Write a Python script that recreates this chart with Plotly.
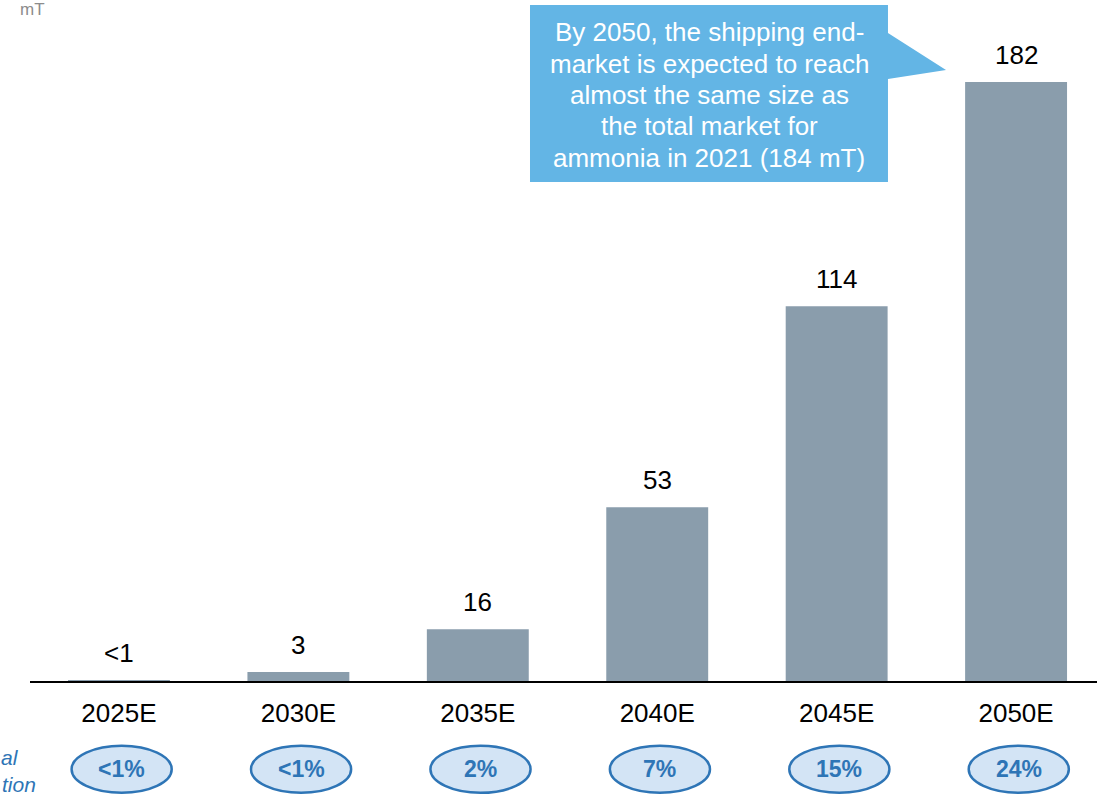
import plotly.graph_objects as go

categories = ["2025E", "2030E", "2035E", "2040E", "2045E", "2050E"]
values = [0.6, 3, 16, 53, 114, 182]
value_labels = ["<1", "3", "16", "53", "114", "182"]
shares = ["<1%", "<1%", "2%", "7%", "15%", "24%"]
callout_lines = [
    "By 2050, the shipping end-",
    "market is expected to reach",
    "almost the same size as",
    "the total market for",
    "ammonia in 2021 (184 mT)",
]
row_label_fragments = ["al", "tion"]

FONT = "Liberation Sans, Arial, sans-serif"
BAR = "#8a9dac"
BLUE = "#2e75b6"

xs = list(range(len(categories)))

fig = go.Figure()
fig.add_trace(go.Bar(x=xs, y=values, marker=dict(color=BAR, line=dict(width=0)),
                     width=0.568, hoverinfo="skip"))

for i, (v, t) in enumerate(zip(values, value_labels)):
    fig.add_annotation(x=i, y=v, text=t, showarrow=False, yanchor="bottom", yshift=10,
                       font=dict(family=FONT, size=26, color="#000000"))

# share ellipses
for i, s in enumerate(shares):
    cx = i + 0.015
    fig.add_shape(type="circle", xref="x", yref="paper",
                  x0=cx - 0.279, x1=cx + 0.279, y0=-0.1625, y1=-0.0935,
                  fillcolor="#d3e4f5", line=dict(color=BLUE, width=2.5))
    fig.add_annotation(x=cx, y=-0.128, xref="x", yref="paper", yanchor="middle",
                       text="<b>%s</b>" % s.replace("<", "&lt;"),
                       showarrow=False, font=dict(family=FONT, size=23, color=BLUE))

# left row label (cropped at the page edge in the original)
fig.add_annotation(x=-0.0082, y=-0.1105, xref="paper", yref="paper", xanchor="right", yanchor="middle",
                   text="<i>%s</i>" % row_label_fragments[0], showarrow=False,
                   font=dict(family=FONT, size=21, color=BLUE))
fig.add_annotation(x=0.0075, y=-0.1505, xref="paper", yref="paper", xanchor="right", yanchor="middle",
                   text="<i>%s</i>" % row_label_fragments[1], showarrow=False,
                   font=dict(family=FONT, size=21, color=BLUE))

# unit label
fig.add_annotation(x=-0.0113, y=1.003, xref="paper", yref="paper", xanchor="left", yanchor="top",
                   text="mT", showarrow=False, font=dict(family=FONT, size=17, color="#8c8c8c"))

# callout box with pointer
fig.add_shape(type="path", xref="paper", yref="paper",
              path="M 0.4686 0.9927 L 0.8041 0.9927 L 0.8041 0.9516 L 0.8585 0.8974 "
                   "L 0.8041 0.8842 L 0.8041 0.7331 L 0.4686 0.7331 Z",
              fillcolor="#63b5e5", line=dict(width=0), layer="above")
line_px = [32, 63.5, 95, 126.5, 158]
for ln, py in zip(callout_lines, line_px):
    fig.add_annotation(x=0.6364, y=(682 - py) / 682, xref="paper", yref="paper", yanchor="middle",
                       text=ln, showarrow=False, align="center",
                       font=dict(family=FONT, size=26, color="#ffffff"))

fig.update_layout(
    width=1097, height=795,
    margin=dict(l=30, r=0, t=0, b=113),
    plot_bgcolor="white", paper_bgcolor="white",
    showlegend=False,
    xaxis=dict(range=[-0.4958, 5.451], tickvals=xs, ticktext=categories,
               showgrid=False, zeroline=False, showline=False, ticks="",
               ticklabelstandoff=13,
               tickfont=dict(family=FONT, size=26, color="#000000")),
    yaxis=dict(range=[0, 206.85], visible=False, showgrid=False, zeroline=False),
)
fig.add_shape(type="line", xref="paper", yref="paper", x0=0, x1=1, y0=0, y1=0,
              line=dict(color="#000000", width=2))

fig.write_html("out.html")
